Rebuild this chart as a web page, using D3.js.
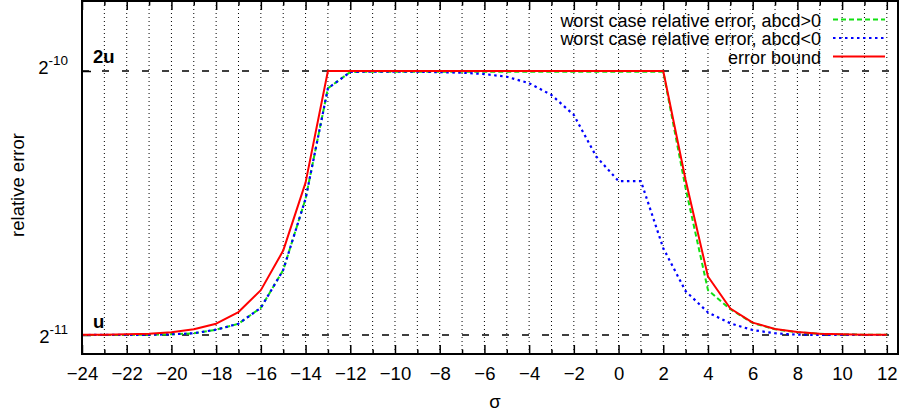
<!DOCTYPE html>
<html>
<head>
<meta charset="utf-8">
<script src="https://cdn.jsdelivr.net/npm/d3@7"></script>
<style>
  body { margin: 0; background: #fff; }
  svg { display: block; font-family: "Liberation Sans", Arial, sans-serif; }
</style>
</head>
<body>
<div id="chart"></div>
<script>
// σ values (x axis)
const sigma = [-24, -23, -22, -21, -20, -19, -18, -17, -16, -15, -14, -13, -12, -11, -10, -9, -8, -7, -6, -5,
  -4, -3, -2, -1, 0, 1, 2, 3, 4, 5, 6, 7, 8, 9, 10, 11, 12];

// relative error, in multiples of u = 2^-11
const worstPos = [1.0000, 1.0001, 1.0002, 1.0005, 1.0018, 1.0045, 1.014, 1.030, 1.074, 1.186, 1.430, 1.911, 1.995,
  1.996, 1.996, 1.996, 1.996, 1.996, 1.996, 1.996, 1.996, 1.996, 1.996, 1.996, 1.996, 1.996, 1.996,
  1.470, 1.125, 1.070, 1.032, 1.015, 1.007, 1.003, 1.0015, 1.0007, 1.0003];
const worstNeg = [1.0000, 1.0001, 1.0002, 1.0005, 1.0018, 1.0045, 1.014, 1.030, 1.074, 1.186, 1.430, 1.911, 1.995,
  1.997, 1.997, 1.996, 1.994, 1.991, 1.984, 1.970, 1.937, 1.878, 1.782, 1.598, 1.498, 1.498, 1.256,
  1.122, 1.061, 1.031, 1.013, 1.0045, 1.0008, 1.0003, 1.0001, 1.0000, 1.0000];
const errorBound = [1.0005, 1.0009, 1.0018, 1.0034, 1.0071, 1.015, 1.030, 1.062, 1.125, 1.248, 1.492, 2, 2,
  2, 2, 2, 2, 2, 2, 2, 2, 2, 2, 2, 2, 2, 2,
  1.502, 1.166, 1.072, 1.033, 1.016, 1.008, 1.0034, 1.0018, 1.0008, 1.0004];

const seriesNames = ['worst case relative error, abcd>0', 'worst case relative error, abcd<0', 'error bound'];
const xTickLabels = [-24, -22, -20, -18, -16, -14, -12, -10, -8, -6, -4, -2, 0, 2, 4, 6, 8, 10, 12];
const xMinorTicks = [-23, -21, -19, -17, -15, -13, -11, -9, -7, -5, -3, -1, 1, 3, 5, 7, 9, 11];
const yTickValues = [2, 1];
const yTickExponents = ['-10', '-11'];
const refLabels = ['2u', 'u'];

const W = 899, H = 416;
const plotLeft = 82, plotRight = 898, plotTop = 1, plotBottom = 354;
const fs = 18.5;

const svg = d3.select('#chart').append('svg').attr('width', W).attr('height', H);

const x = d3.scaleLinear().domain([-24, 12.5]).range([plotLeft, plotRight]);
const y = d3.scaleLog().base(2).domain([0.9513, 2.4036]).range([plotBottom, plotTop]);

// dotted vertical grid
svg.append('g')
  .selectAll('line')
  .data(sigma.filter(s => s > -24))
  .enter().append('line')
  .attr('x1', d => x(d)).attr('x2', d => x(d))
  .attr('y1', plotTop).attr('y2', plotBottom)
  .attr('stroke', '#000').attr('stroke-width', 1)
  .attr('stroke-dasharray', '1,3');

// dashed reference lines at u and 2u
svg.append('g')
  .selectAll('line')
  .data(yTickValues)
  .enter().append('line')
  .attr('x1', plotLeft).attr('x2', plotRight)
  .attr('y1', d => y(d)).attr('y2', d => y(d))
  .attr('stroke', '#000').attr('stroke-width', 1.6)
  .attr('stroke-dasharray', '7,13');

// axes (ticks inward)
function styleAxis(g) {
  g.select('.domain').remove();
  g.selectAll('.tick line').attr('stroke', '#000').attr('stroke-width', 1.5);
  g.selectAll('.tick text').attr('font-size', fs).attr('fill', '#000');
}
svg.append('g').attr('transform', `translate(0,${plotBottom})`)
  .call(d3.axisBottom(x).tickValues(xTickLabels).tickSize(-9).tickPadding(13).tickFormat(d3.format('d')))
  .call(styleAxis);
svg.append('g').attr('transform', `translate(0,${plotBottom})`)
  .call(d3.axisBottom(x).tickValues(xMinorTicks).tickSize(-4.5).tickFormat(''))
  .call(styleAxis);
svg.append('g').attr('transform', `translate(0,${plotTop})`)
  .call(d3.axisTop(x).tickValues(xTickLabels).tickSize(-9).tickFormat(''))
  .call(styleAxis);
svg.append('g').attr('transform', `translate(0,${plotTop})`)
  .call(d3.axisTop(x).tickValues(xMinorTicks).tickSize(-4.5).tickFormat(''))
  .call(styleAxis);
svg.append('g').attr('transform', `translate(${plotLeft},0)`)
  .call(d3.axisLeft(y).tickValues(yTickValues).tickSize(-9).tickFormat(''))
  .call(styleAxis);

// y tick labels 2^-10, 2^-11
yTickValues.forEach((v, i) => {
  const t = svg.append('text')
    .attr('x', 68).attr('y', y(v) + (v === 2 ? 2.5 : 8))
    .attr('text-anchor', 'end').attr('font-size', fs).attr('fill', '#000');
  t.append('tspan').text('2');
  t.append('tspan').attr('dy', -8.5).attr('font-size', 13.5).text(yTickExponents[i]);
});

// bold labels 2u, u
refLabels.forEach((lab, i) => {
  svg.append('text')
    .attr('x', 93).attr('y', y(yTickValues[i]) - (i === 0 ? 8 : 7))
    .attr('font-size', fs).attr('font-weight', 'bold').attr('fill', '#000')
    .text(lab);
});

// curves
const line = d3.line().x((d, i) => x(sigma[i])).y(d => y(d));
const series = [
  { values: worstPos, color: '#11e011', dash: '5,3', width: 2 },
  { values: worstNeg, color: '#0000ff', dash: '2.5,3.5', width: 2.2 },
  { values: errorBound, color: '#ff0000', dash: null, width: 2 }
];
series.forEach(s => {
  svg.append('path')
    .datum(s.values)
    .attr('fill', 'none')
    .attr('stroke', s.color)
    .attr('stroke-width', s.width)
    .attr('stroke-dasharray', s.dash)
    .attr('stroke-linejoin', 'round')
    .attr('d', line);
});

// frame
svg.append('rect')
  .attr('x', plotLeft).attr('y', plotTop)
  .attr('width', plotRight - plotLeft).attr('height', plotBottom - plotTop)
  .attr('fill', 'none').attr('stroke', '#000').attr('stroke-width', 2);

// legend
series.forEach((s, i) => {
  const ly = 19.5 + i * 18.5;
  svg.append('text')
    .attr('x', 821).attr('y', ly + 7)
    .attr('text-anchor', 'end').attr('font-size', 18).attr('fill', '#000')
    .text(seriesNames[i]);
  svg.append('line')
    .attr('x1', 833).attr('x2', 885).attr('y1', ly).attr('y2', ly)
    .attr('stroke', s.color).attr('stroke-width', s.width)
    .attr('stroke-dasharray', s.dash);
});

// axis titles
svg.append('text')
  .attr('transform', 'translate(24,185) rotate(-90)')
  .attr('text-anchor', 'middle').attr('font-size', fs).attr('fill', '#000')
  .text('relative error');
svg.append('text')
  .attr('x', 495).attr('y', 408)
  .attr('text-anchor', 'middle').attr('font-size', fs).attr('fill', '#000')
  .text('σ');
</script>
</body>
</html>
